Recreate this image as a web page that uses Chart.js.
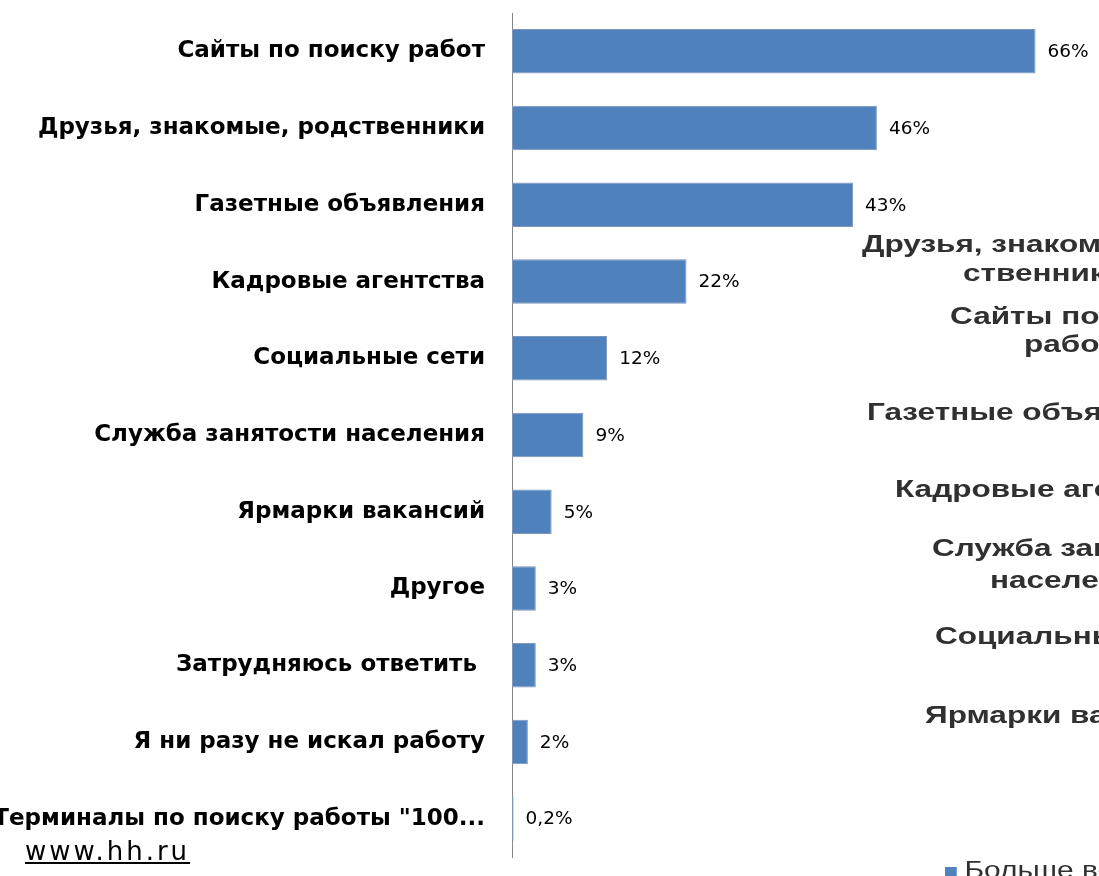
<!DOCTYPE html>
<html>
<head>
<meta charset="utf-8">
<script src="https://cdn.jsdelivr.net/npm/chart.js@4"></script>
<style>
  html, body { margin:0; padding:0; background:#fff; overflow:hidden; }
  #wrap { position:relative; width:1099px; height:876px; overflow:hidden; }
  #chart { position:absolute; left:0; top:0; }
  .side { position:absolute; white-space:nowrap; font-family:"Liberation Sans", Arial, sans-serif;
          font-weight:bold; font-size:23px; line-height:26px; color:#303030;
          transform:scaleX(1.37); transform-origin:left center; }
  .legend { font-weight:normal; transform:scaleX(1.3); }
  .sq { display:inline-block; width:9px; height:11px; background:#4F81BD; margin-right:6px; }
  #src { position:absolute; left:25px; top:836px; font-family:"DejaVu Sans", sans-serif; font-size:26px;
         letter-spacing:3px; color:#000; text-decoration:underline; }
</style>
</head>
<body>
<div id="wrap">
  <canvas id="chart" width="1099" height="876"></canvas>
  <!-- обрезанный текст соседней диаграммы справа -->
  <div class="side" style="left:862px; top:231px;">Друзья, знакомые, род-</div>
  <div class="side" style="left:963px; top:260px;">ственники</div>
  <div class="side" style="left:950px; top:303px;">Сайты по поиску</div>
  <div class="side" style="left:1024px; top:331px;">работ</div>
  <div class="side" style="left:867px; top:399px;">Газетные объявления</div>
  <div class="side" style="left:895px; top:476px;">Кадровые агентства</div>
  <div class="side" style="left:932px; top:535px;">Служба занятости</div>
  <div class="side" style="left:990px; top:567px;">населения</div>
  <div class="side" style="left:935px; top:623px;">Социальные сети</div>
  <div class="side" style="left:925px; top:702px;">Ярмарки вакансий</div>
  <div class="side legend" style="left:945px; top:857px;"><span class="sq"></span>Больше всего</div>
  <div id="src">www.hh.ru</div>
</div>
<script>
const categories = [
  'Сайты по поиску работ',
  'Друзья, знакомые, родственники',
  'Газетные объявления',
  'Кадровые агентства',
  'Социальные сети',
  'Служба занятости населения',
  'Ярмарки вакансий',
  'Другое',
  'Затрудняюсь ответить ',
  'Я ни разу не искал работу',
  'Терминалы по поиску работы "100...'
];
const values = [66, 46, 43, 22, 12, 9, 5, 3, 3, 2, 0.2];
const valueLabels = ['66%', '46%', '43%', '22%', '12%', '9%', '5%', '3%', '3%', '2%', '0,2%'];

const barLabels = {
  id: 'barLabels',
  afterDatasetsDraw(chart) {
    const ctx = chart.ctx;
    const meta = chart.getDatasetMeta(0);
    ctx.save();
    ctx.font = '18.5px "DejaVu Sans", sans-serif';
    ctx.fillStyle = '#000';
    ctx.textAlign = 'left';
    ctx.textBaseline = 'middle';
    meta.data.forEach((bar, i) => {
      ctx.fillText(valueLabels[i], bar.x + 12, bar.y + 1);
    });
    ctx.restore();
  }
};

const ctx = document.getElementById('chart').getContext('2d');
new Chart(ctx, {
  type: 'bar',
  data: {
    labels: categories,
    datasets: [{
      data: values,
      backgroundColor: '#4F81BD',
      borderColor: '#7f96b8',
      borderWidth: 1,
      borderSkipped: false,
      barPercentage: 0.58,
      categoryPercentage: 1
    }]
  },
  options: {
    indexAxis: 'y',
    responsive: false,
    animation: false,
    layout: { padding: { top: 13, bottom: 19, left: 0, right: 0 } },
    plugins: { legend: { display: false }, tooltip: { enabled: false } },
    scales: {
      x: { display: false, min: 0, max: 74 },
      y: {
        afterFit(scale) {
          scale.width = 512;
          scale.paddingTop = 0;
          scale.paddingBottom = 0;
        },
        grid: { display: false, drawTicks: false },
        border: { display: true, color: '#868686', width: 1 },
        ticks: {
          color: '#000',
          padding: 27,
          font: { family: '"DejaVu Sans", sans-serif', size: 23, weight: 'bold' }
        }
      }
    }
  },
  plugins: [barLabels]
});
</script>
</body>
</html>
